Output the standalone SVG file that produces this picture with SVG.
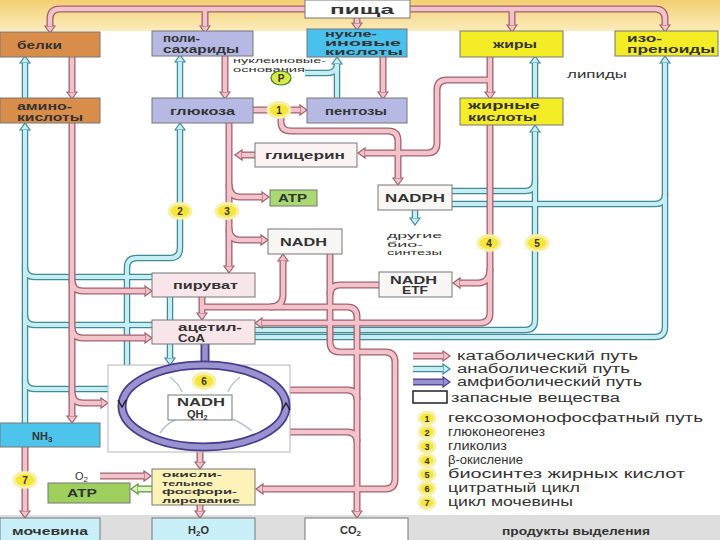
<svg xmlns="http://www.w3.org/2000/svg" width="720" height="540" viewBox="0 0 720 540">
<style>
.ko{fill:none;stroke:#a2606e;stroke-width:7;marker-end:url(#mk)}
.ki{fill:none;stroke:#f3c3cc;stroke-width:4.4}
.ao{fill:none;stroke:#3f8a96;stroke-width:6.5;marker-end:url(#ma)}
.ai{fill:none;stroke:#c6eef2;stroke-width:4}
.go{fill:none;stroke:#5f9a35;stroke-width:7;marker-end:url(#mg)}
.gi{fill:none;stroke:#e4f4c8;stroke-width:4.4}
.po{fill:none;stroke:#4b3d8e;stroke-width:9}
.pi{fill:none;stroke:#9a91cf;stroke-width:5.5}
.lpo{fill:none;stroke:#4b3d8e;stroke-width:7;marker-end:url(#mp)}
.lpi{fill:none;stroke:#9a91cf;stroke-width:4.4}
.na{marker-end:none}
.box{stroke:#777;stroke-width:1}
.t{font-family:"Liberation Sans",Arial,sans-serif;font-size:11px;font-weight:bold;fill:#333}
.s{font-family:"Liberation Sans",Arial,sans-serif;font-size:9.5px;fill:#333}
.lg{font-family:"Liberation Sans",Arial,sans-serif;font-size:12px;fill:#333}
.num{fill:#f7e63a;stroke:#f6f0a8;stroke-width:3}
.nt{font-family:"Liberation Sans",Arial,sans-serif;font-size:10px;font-weight:bold;fill:#333;text-anchor:middle}
.ox{font-size:7px}
.nu{font-size:8.5px}
.ln{font-size:9px}
.sm{font-size:7.2px}
</style>
<defs>
<linearGradient id="top" x1="0" y1="0" x2="0" y2="1">
<stop offset="0" stop-color="#f3cf72"/><stop offset="1" stop-color="#fbecbc"/>
</linearGradient>
<marker id="mk" markerUnits="userSpaceOnUse" markerWidth="14" markerHeight="14" refX="1" refY="6" orient="auto" overflow="visible"><path d="M1,1 L8,6 L1,11 Z" fill="#f3c3cc" stroke="#a2606e" stroke-width="1.2"/></marker>
<marker id="ma" markerUnits="userSpaceOnUse" markerWidth="14" markerHeight="14" refX="1" refY="6" orient="auto" overflow="visible"><path d="M1,1 L8,6 L1,11 Z" fill="#c6eef2" stroke="#3f8a96" stroke-width="1.2"/></marker>
<marker id="mg" markerUnits="userSpaceOnUse" markerWidth="14" markerHeight="14" refX="1" refY="6" orient="auto" overflow="visible"><path d="M1,1 L8,6 L1,11 Z" fill="#e4f4c8" stroke="#5f9a35" stroke-width="1.2"/></marker>
<marker id="mp" markerUnits="userSpaceOnUse" markerWidth="14" markerHeight="14" refX="1" refY="6" orient="auto" overflow="visible"><path d="M1,1 L8,6 L1,11 Z" fill="#9a91cf" stroke="#4b3d8e" stroke-width="1.2"/></marker>
<path id="k1" d="M305,9 H60 Q50,9 50,19 V26"/>
<path id="k2" d="M205,9 V26"/>
<path id="k3" d="M357,17 V23"/>
<path id="k4" d="M410,9 H655 Q665,9 665,19 V25"/>
<path id="k5" d="M512,9 V25"/>
<path id="k6" d="M72,57 V92"/>
<path id="k7" d="M225,56 V92"/>
<path id="k8" d="M383,57 V92"/>
<path id="k9" d="M490,57 V92"/>
<path id="k10" d="M490,80 H447 Q437,80 437,90 V143 Q437,153 427,153 H365"/>
<path id="k11" d="M253,110 H300"/>
<path id="k12" d="M281,117 V122 Q281,131 291,131 H388 Q398,131 398,141 V178"/>
<path id="k13" d="M229,123 V266"/>
<path id="k14" d="M229,184 Q229,197 240,197 H262"/>
<path id="k15" d="M229,228 Q229,240 240,240 H261"/>
<path id="k16" d="M255,155 H242"/>
<path id="k17" d="M72,123 V416"/>
<path id="k18" d="M72,280 Q72,291 83,291 H145"/>
<path id="k19" d="M72,327 Q72,338 83,338 H145"/>
<path id="k20" d="M72,392 Q72,403 83,403 H101"/>
<path id="k21" d="M202,297 V313"/>
<path id="k22" d="M202,307 H347 Q357,307 357,317 V511"/>
<path id="k23" d="M270,307 Q283,307 283,295 V261"/>
<path id="k24" d="M330,254 V342 Q330,352 340,352 H385 Q395,352 395,362 V479 Q395,489 385,489 H263"/>
<path id="k25" d="M379,285 H340 Q330,285 330,295"/>
<path id="k26" d="M490,125 V313 Q490,323 480,323 H262"/>
<path id="k27" d="M490,268 Q490,283 478,283 H460"/>
<path id="k28" d="M286,390 H347 Q357,390 357,400"/>
<path id="k29" d="M286,432 H347 Q357,432 357,442"/>
<path id="k30" d="M200,420 V462"/>
<path id="k31" d="M200,505 V511"/>
<path id="k32" d="M100,476 H144"/>
<path id="k33" d="M25,447 V511"/>
<path id="a1" d="M25,98 V63"/>
<path id="a2" d="M180,98 V62"/>
<path id="a3" d="M337,98 V64"/>
<path id="a4" d="M305,73 H327 Q337,73 337,64"/>
<path id="a5" d="M535,98 V63"/>
<path id="a6" d="M25,423 V130"/>
<path id="a7" d="M152,277 H35 Q25,277 25,267"/>
<path id="a8" d="M152,325 H35 Q25,325 25,315"/>
<path id="a9" d="M108,389 H35 Q25,389 25,379"/>
<path id="a10" d="M127,365 V268 Q127,258 137,258 H170 Q180,258 180,248 V130"/>
<path id="a11" d="M170,297 V358"/>
<path id="a12" d="M255,330 H525 Q535,330 535,320 V132"/>
<path id="a13" d="M255,337 H655 Q665,337 665,327 V63"/>
<path id="a14" d="M452,191 H525 Q535,191 535,181"/>
<path id="a15" d="M452,204 H655 Q665,204 665,194"/>
<path id="a16" d="M415,210 V218"/>
<path id="g1" d="M152,489 H138"/>
<path id="p1" d="M205,343 V366"/>
<path id="l1" d="M413,356 H443"/>
<path id="l2" d="M413,369 H443"/>
<path id="l3" d="M413,382 H443"/>
</defs>

<rect x="0" y="0" width="720" height="540" fill="#ffffff"/>
<rect x="0" y="0" width="720" height="31" fill="url(#top)"/>
<rect x="0" y="515" width="720" height="25" fill="#dedede"/>

<g id="connectors">
<use href="#a1" class="ao"/><use href="#a2" class="ao"/><use href="#a3" class="ao"/><use href="#a4" class="ao na"/><use href="#a5" class="ao"/><use href="#a6" class="ao"/><use href="#a7" class="ao na"/><use href="#a8" class="ao na"/><use href="#a9" class="ao na"/><use href="#a10" class="ao"/><use href="#a11" class="ao"/><use href="#a12" class="ao"/><use href="#a13" class="ao"/><use href="#a14" class="ao na"/><use href="#a15" class="ao na"/><use href="#a16" class="ao"/>
<use href="#a1" class="ai"/><use href="#a2" class="ai"/><use href="#a3" class="ai"/><use href="#a4" class="ai"/><use href="#a5" class="ai"/><use href="#a6" class="ai"/><use href="#a7" class="ai"/><use href="#a8" class="ai"/><use href="#a9" class="ai"/><use href="#a10" class="ai"/><use href="#a11" class="ai"/><use href="#a12" class="ai"/><use href="#a13" class="ai"/><use href="#a14" class="ai"/><use href="#a15" class="ai"/><use href="#a16" class="ai"/>
<use href="#k1" class="ko"/><use href="#k2" class="ko"/><use href="#k3" class="ko"/><use href="#k4" class="ko"/><use href="#k5" class="ko"/><use href="#k6" class="ko"/><use href="#k7" class="ko"/><use href="#k8" class="ko"/><use href="#k9" class="ko"/><use href="#k10" class="ko"/><use href="#k11" class="ko"/><use href="#k12" class="ko"/><use href="#k13" class="ko"/><use href="#k14" class="ko"/><use href="#k15" class="ko"/><use href="#k16" class="ko"/><use href="#k17" class="ko"/><use href="#k18" class="ko"/><use href="#k19" class="ko"/><use href="#k20" class="ko"/><use href="#k21" class="ko"/><use href="#k22" class="ko"/><use href="#k23" class="ko"/><use href="#k24" class="ko"/><use href="#k25" class="ko na"/><use href="#k26" class="ko"/><use href="#k27" class="ko"/><use href="#k28" class="ko na"/><use href="#k29" class="ko na"/><use href="#k30" class="ko"/><use href="#k31" class="ko"/><use href="#k32" class="ko"/><use href="#k33" class="ko"/>
<use href="#k1" class="ki"/><use href="#k2" class="ki"/><use href="#k3" class="ki"/><use href="#k4" class="ki"/><use href="#k5" class="ki"/><use href="#k6" class="ki"/><use href="#k7" class="ki"/><use href="#k8" class="ki"/><use href="#k9" class="ki"/><use href="#k10" class="ki"/><use href="#k11" class="ki"/><use href="#k12" class="ki"/><use href="#k13" class="ki"/><use href="#k14" class="ki"/><use href="#k15" class="ki"/><use href="#k16" class="ki"/><use href="#k17" class="ki"/><use href="#k18" class="ki"/><use href="#k19" class="ki"/><use href="#k20" class="ki"/><use href="#k21" class="ki"/><use href="#k22" class="ki"/><use href="#k23" class="ki"/><use href="#k24" class="ki"/><use href="#k25" class="ki"/><use href="#k26" class="ki"/><use href="#k27" class="ki"/><use href="#k28" class="ki"/><use href="#k29" class="ki"/><use href="#k30" class="ki"/><use href="#k31" class="ki"/><use href="#k32" class="ki"/><use href="#k33" class="ki"/>
<use href="#g1" class="go"/><use href="#g1" class="gi"/>
<use href="#p1" class="po"/><use href="#p1" class="pi"/>
</g>

<g id="n-pishcha"><rect class="box" x="305" y="0" width="105" height="18" fill="#fff"/><text class="t" x="330" y="14" style="font-size:12px" textLength="64" lengthAdjust="spacingAndGlyphs">пища</text></g>
<g id="n-belki"><rect class="box" x="0" y="32" width="100" height="25" fill="#d98d4a"/><text class="t" x="17" y="48.5" textLength="45" lengthAdjust="spacingAndGlyphs">белки</text></g>
<g id="n-polisaharidy"><rect class="box" x="152" y="31" width="101" height="25" fill="#b5b9e4"/><text class="t" x="163" y="42" textLength="37" lengthAdjust="spacingAndGlyphs">поли-</text><text class="t" x="163" y="53" textLength="76" lengthAdjust="spacingAndGlyphs">сахариды</text></g>
<g id="n-nukleinovye"><rect class="box" x="307" y="29" width="100" height="28" fill="#49c1ec"/><text class="t nu" x="325" y="37" textLength="52" lengthAdjust="spacingAndGlyphs">нукле-</text><text class="t nu" x="325" y="46" textLength="76" lengthAdjust="spacingAndGlyphs">иновые</text><text class="t nu" x="325" y="55" textLength="78" lengthAdjust="spacingAndGlyphs">кислоты</text></g>
<g id="n-zhiry"><rect class="box" x="460" y="31" width="103" height="26" fill="#f4ec24"/><text class="t" x="493" y="48" textLength="44" lengthAdjust="spacingAndGlyphs">жиры</text></g>
<g id="n-izoprenoidy"><rect class="box" x="615" y="31" width="103" height="25" fill="#f4ec24"/><text class="t" x="627" y="41.5" textLength="35" lengthAdjust="spacingAndGlyphs">изо-</text><text class="t" x="627" y="52.5" textLength="88" lengthAdjust="spacingAndGlyphs">преноиды</text></g>
<g id="n-osnovaniya"><text class="s sm" x="233" y="63" textLength="93" lengthAdjust="spacingAndGlyphs">нуклеиновые-</text><text class="s sm" x="233" y="71.5" textLength="72" lengthAdjust="spacingAndGlyphs">основания</text></g>
<g id="n-P"><ellipse cx="281" cy="78" rx="10" ry="7" fill="#d8ea46" stroke="#3f7a2a" stroke-width="1.2"/><text class="nt" x="281" y="82">P</text></g>
<g id="n-lipidy"><text class="s" x="567" y="78" style="font-size:10.5px" textLength="60" lengthAdjust="spacingAndGlyphs">липиды</text></g>
<g id="n-aminokisloty"><rect class="box" x="0" y="98" width="100" height="25" fill="#d98d4a"/><text class="t" x="17" y="109.5" textLength="55" lengthAdjust="spacingAndGlyphs">амино-</text><text class="t" x="17" y="120.5" textLength="66" lengthAdjust="spacingAndGlyphs">кислоты</text></g>
<g id="n-glyukoza"><rect class="box" x="152" y="98" width="101" height="25" fill="#b5b9e4"/><text class="t" x="170" y="115" textLength="65" lengthAdjust="spacingAndGlyphs">глюкоза</text></g>
<g id="n-pentozy"><rect class="box" x="307" y="98" width="100" height="25" fill="#b5b9e4"/><text class="t" x="325" y="115" textLength="62" lengthAdjust="spacingAndGlyphs">пентозы</text></g>
<g id="n-zhirnye"><rect class="box" x="460" y="98" width="103" height="27" fill="#f4ec24"/><text class="t" x="468" y="108.5" textLength="72" lengthAdjust="spacingAndGlyphs">жирные</text><text class="t" x="468" y="120.5" textLength="69" lengthAdjust="spacingAndGlyphs">кислоты</text></g>
<g id="n-glicerin"><rect class="box" x="255" y="143" width="102" height="24" fill="#fbf3f3"/><text class="t" x="265" y="159" textLength="80" lengthAdjust="spacingAndGlyphs">глицерин</text></g>
<g id="n-atp1"><rect class="box" x="270" y="190" width="47" height="16" fill="#a9d972"/><text class="t" x="278" y="202" textLength="29" lengthAdjust="spacingAndGlyphs">ATP</text></g>
<g id="n-nadph"><rect class="box" x="378" y="185" width="74" height="25" fill="#f9f6f6"/><text class="t" x="385" y="201.5" textLength="60" lengthAdjust="spacingAndGlyphs">NADPH</text></g>
<g id="n-drugie"><text class="s sm" x="387" y="238" textLength="55" lengthAdjust="spacingAndGlyphs">другие</text><text class="s sm" x="387" y="246.5" textLength="36" lengthAdjust="spacingAndGlyphs">био-</text><text class="s sm" x="387" y="255" textLength="55" lengthAdjust="spacingAndGlyphs">синтезы</text></g>
<g id="n-nadh1"><rect class="box" x="268" y="229" width="74" height="25" fill="#f9f6f6"/><text class="t" x="280" y="246" textLength="47" lengthAdjust="spacingAndGlyphs">NADH</text></g>
<g id="n-piruvat"><rect class="box" x="152" y="273" width="103" height="24" fill="#f8e6ea"/><text class="t" x="173" y="289" textLength="65" lengthAdjust="spacingAndGlyphs">пируват</text></g>
<g id="n-nadhetf"><rect class="box" x="379" y="272" width="73" height="25" fill="#f9f6f6"/><text class="t" x="390" y="283.5" textLength="47" lengthAdjust="spacingAndGlyphs">NADH</text><text class="t" x="402" y="294" textLength="26" lengthAdjust="spacingAndGlyphs">ETF</text></g>
<g id="n-acetil"><rect class="box" x="152" y="320" width="103" height="24" fill="#f8e6ea"/><text class="t" x="178" y="331" textLength="64" lengthAdjust="spacingAndGlyphs">ацетил-</text><text class="t" x="178" y="341.5" textLength="27" lengthAdjust="spacingAndGlyphs">CoA</text></g>
<g id="n-cycle">
<rect x="108" y="365" width="182" height="87" fill="#fff" stroke="#b5b5b5" stroke-width="1"/>
<ellipse cx="204" cy="406" rx="82" ry="41" class="po"/>
<ellipse cx="204" cy="406" rx="82" ry="41" class="pi"/>
<path d="M118,400 L122,407 L126,400 M282,410 L286,403 L290,410" fill="none" stroke="#222" stroke-width="1.5"/>
<path d="M170,377 Q179,384 182,392 M240,377 Q231,384 228,392 M160,433 Q166,424 175,420 M252,431 Q242,423 232,419" fill="none" stroke="#b9c3d8" stroke-width="1.5"/>
<rect class="box" x="168" y="395" width="64" height="25" fill="#fff"/>
<text class="t" x="177" y="406" textLength="48" lengthAdjust="spacingAndGlyphs">NADH</text>
<text class="t" x="187" y="417.5">QH<tspan font-size="7" dy="2">2</tspan></text>
</g>
<g id="n-nh3"><rect class="box" x="0" y="423" width="100" height="24" fill="#4cc4ec"/><text class="t" x="32" y="440">NH<tspan font-size="8" dy="2">3</tspan></text></g>
<g id="n-o2"><text class="t" x="75" y="480" style="font-weight:normal">O<tspan font-size="8" dy="2">2</tspan></text></g>
<g id="n-oxphos"><rect class="box" x="152" y="469" width="103" height="36" fill="#fdf3b9"/><text class="t ox" x="162" y="477" textLength="60" lengthAdjust="spacingAndGlyphs">окисли-</text><text class="t ox" x="162" y="485.5" textLength="51" lengthAdjust="spacingAndGlyphs">тельное</text><text class="t ox" x="162" y="494" textLength="75" lengthAdjust="spacingAndGlyphs">фосфори-</text><text class="t ox" x="162" y="502.5" textLength="78" lengthAdjust="spacingAndGlyphs">лирование</text></g>
<g id="n-atp2"><rect class="box" x="48" y="483" width="82" height="20" fill="#9fd05e"/><text class="t" x="67" y="497" textLength="30" lengthAdjust="spacingAndGlyphs">ATP</text></g>
<g id="n-mochevina"><rect class="box" x="0" y="518" width="100" height="24" fill="#c9f0f8"/><text class="t" x="12" y="535" textLength="76" lengthAdjust="spacingAndGlyphs">мочевина</text></g>
<g id="n-h2o"><rect class="box" x="152" y="518" width="103" height="24" fill="#c9f0f8"/><text class="t" x="188" y="534">H<tspan font-size="8" dy="2">2</tspan><tspan dy="-2">O</tspan></text></g>
<g id="n-co2"><rect class="box" x="305" y="518" width="103" height="24" fill="#fff"/><text class="t" x="340" y="534">CO<tspan font-size="8" dy="2">2</tspan></text></g>
<g id="n-produkty"><text class="t" x="502" y="535" textLength="148" lengthAdjust="spacingAndGlyphs">продукты выделения</text></g>

<g id="numbers">
<ellipse class="num" cx="279" cy="110" rx="11" ry="7.5"/><text class="nt" x="279" y="114">1</text>
<ellipse class="num" cx="180" cy="211" rx="11" ry="7.5"/><text class="nt" x="180" y="215">2</text>
<ellipse class="num" cx="227" cy="211" rx="11" ry="7.5"/><text class="nt" x="227" y="215">3</text>
<ellipse class="num" cx="489" cy="243" rx="11" ry="7.5"/><text class="nt" x="489" y="247">4</text>
<ellipse class="num" cx="537" cy="243" rx="11" ry="7.5"/><text class="nt" x="537" y="247">5</text>
<ellipse class="num" cx="204" cy="381" rx="11" ry="7.5"/><text class="nt" x="204" y="385">6</text>
<ellipse class="num" cx="25" cy="480" rx="11" ry="7.5"/><text class="nt" x="25" y="484">7</text>
</g>

<g id="legend">
<use href="#l1" class="ko"/><use href="#l1" class="ki"/>
<use href="#l2" class="ao"/><use href="#l2" class="ai"/>
<use href="#l3" class="lpo"/><use href="#l3" class="lpi"/>
<text class="lg" x="457" y="360" textLength="181" lengthAdjust="spacingAndGlyphs">катаболический путь</text>
<text class="lg" x="457" y="373" textLength="173" lengthAdjust="spacingAndGlyphs">анаболический путь</text>
<text class="lg" x="457" y="386" textLength="185" lengthAdjust="spacingAndGlyphs">амфиболический путь</text>
<rect x="413" y="391" width="34" height="12" fill="#fff" stroke="#222" stroke-width="1.5"/>
<text class="lg" x="451" y="402" textLength="169" lengthAdjust="spacingAndGlyphs">запасные вещества</text>
<ellipse class="num" cx="427" cy="418" rx="8" ry="6"/><text class="nt ln" x="427" y="421.5">1</text><text class="lg" x="448" y="422" textLength="255" lengthAdjust="spacingAndGlyphs">гексозомонофосфатный путь</text>
<ellipse class="num" cx="427" cy="432" rx="8" ry="6"/><text class="nt ln" x="427" y="435.5">2</text><text class="lg" x="448" y="436" textLength="97" lengthAdjust="spacingAndGlyphs">глюконеогенез</text>
<ellipse class="num" cx="427" cy="446.5" rx="8" ry="6"/><text class="nt ln" x="427" y="450">3</text><text class="lg" x="448" y="450" textLength="59" lengthAdjust="spacingAndGlyphs">гликолиз</text>
<ellipse class="num" cx="427" cy="460.5" rx="8" ry="6"/><text class="nt ln" x="427" y="464">4</text><text class="lg" x="448" y="464" textLength="75" lengthAdjust="spacingAndGlyphs">β-окисление</text>
<ellipse class="num" cx="427" cy="474.5" rx="8" ry="6"/><text class="nt ln" x="427" y="478">5</text><text class="lg" x="448" y="478" textLength="237" lengthAdjust="spacingAndGlyphs">биосинтез жирных кислот</text>
<ellipse class="num" cx="427" cy="488.5" rx="8" ry="6"/><text class="nt ln" x="427" y="492">6</text><text class="lg" x="448" y="492" textLength="132" lengthAdjust="spacingAndGlyphs">цитратный цикл</text>
<ellipse class="num" cx="427" cy="502.5" rx="8" ry="6"/><text class="nt ln" x="427" y="506">7</text><text class="lg" x="448" y="506" textLength="125" lengthAdjust="spacingAndGlyphs">цикл мочевины</text>
</g>
</svg>
